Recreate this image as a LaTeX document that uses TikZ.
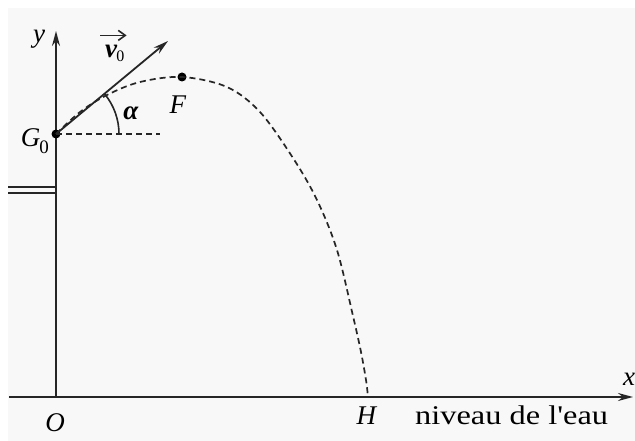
\documentclass[tikz,border=0pt]{standalone}
\usepackage{fontspec}
\setmainfont{Liberation Serif}
\newfontfamily\rawserif{Liberation Serif}[Ligatures=TeXOff]
\usetikzlibrary{arrows.meta}
\definecolor{bgc}{HTML}{F8F8F8}
\definecolor{ink}{HTML}{262626}
\tikzset{
  axis/.style={draw=ink, line width=1.9pt},
  traj/.style={draw=ink, line width=1.7pt, dash pattern=on 6pt off 4pt},
  dot/.style={circle, fill=black, inner sep=0pt, minimum size=9pt},
  lbl/.style={font=\fontsize{27}{30}\selectfont, text=black, inner sep=0pt},
  tip/.style={-{Stealth[length=15pt,width=8pt]}},
}
\begin{document}
\begin{tikzpicture}[x=1pt,y=-1pt]
\useasboundingbox (0,0) rectangle (635,441);
\fill[bgc] (8,8) rectangle (635,441);
% points
\coordinate (O) at (56,397);
\coordinate (xend) at (633,397);
\coordinate (xstart) at (9,397);
\coordinate (ytop) at (56,31);
\coordinate (H) at (368,397);
\coordinate (vtip) at (168,41);
\coordinate (hend) at (160,134);
\coordinate (w1a) at (8,187);
\coordinate (w1b) at (56,187);
\coordinate (w2a) at (8,193);
\coordinate (w2b) at (56,193);
% axes
\draw[axis,tip] (xstart) -- (xend);
\draw[axis,tip] (O) -- (ytop);
% wall / ledge
\draw[ink, line width=1.6pt] (w1a) -- (w1b);
\draw[ink, line width=1.6pt] (w2a) -- (w2b);
% dots
\node[dot] (G0) at (56,134) {};
\node[dot] (F) at (182,77) {};
% trajectory
\draw[traj] plot[smooth, tension=0.55] coordinates {(56,134) (80,112) (107,95) (140,82) (182,77) (227,87) (260,112) (293,158) (317,200) (337,250) (353,316) (361,352) (366,380) (368,397)};
% horizontal reference
\draw[traj] (G0.center) -- (hend);
% velocity vector
\draw[ink, line width=1.8pt, tip] (G0.center) -- (vtip);
% angle arc
\draw[ink, line width=1.6pt] (G0.center) ++(63,0) arc[start angle=0, end angle=-39.5, radius=63];
% labels
\node[lbl, anchor=base] (ylab) at (39,43) {\textit{y}};
\node[lbl, anchor=base] (xlab) at (629,385) {\textit{x}};
\node[lbl, anchor=base] (Olab) at (55,431) {\textit{O}};
\node[lbl, anchor=base] (Hlab) at (367,424) {\textit{H}};
\node[lbl, anchor=base] (Flab) at (178,114) {\textit{F}};
\node[lbl, anchor=base east] (G0lab) at (49,147) {\textit{G}\kern-1pt\raisebox{-6pt}{\fontsize{19}{20}\selectfont 0}};
\node[lbl, anchor=base] (alab) at (131,120) {\textbf{\textit{α}}};
\node[lbl, anchor=base west] (vlab) at (105,58) {\textbf{\textit{v}}\kern-1pt\raisebox{-4pt}{\fontsize{16}{18}\selectfont 0}};
\draw[ink, line width=1.6pt, -{Straight Barb[length=7pt,width=10pt]}] ([xshift=-5pt,yshift=10pt]vlab.north west) -- ([xshift=2pt,yshift=10pt]vlab.north east);
\node[lbl, anchor=base west] (eau) at (415,424) {\scalebox{1.2}[1]{\rawserif niveau de l'eau}};
\end{tikzpicture}
\end{document}
